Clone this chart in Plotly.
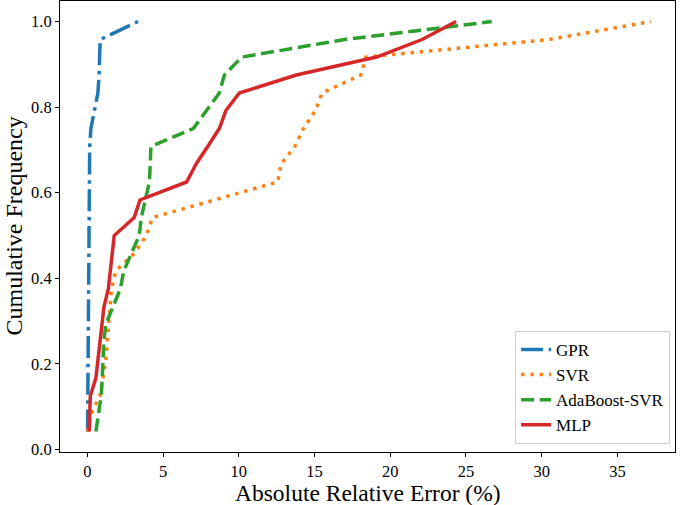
import plotly.graph_objects as go

# Cumulative frequency levels (24 samples)
CUM_FREQ = [0.042, 0.083, 0.125, 0.167, 0.208, 0.250, 0.292, 0.333, 0.375, 0.417,
            0.458, 0.500, 0.542, 0.583, 0.625, 0.667, 0.708, 0.750, 0.792, 0.833,
            0.875, 0.917, 0.958, 1.000]

# Absolute relative error (%) for each model, sorted
GPR = [0.02, 0.03, 0.04, 0.05, 0.06, 0.07, 0.08, 0.08, 0.09, 0.10, 0.10, 0.11,
       0.11, 0.12, 0.12, 0.13, 0.16, 0.24, 0.48, 0.70, 0.78, 0.83, 0.85, 3.35]
SVR = [0.02, 0.24, 0.84, 1.06, 1.22, 1.32, 1.41, 1.49, 1.60, 1.88, 3.10, 3.90,
       4.31, 8.40, 12.57, 12.80, 13.70, 14.27, 15.06, 15.50, 18.06, 18.40, 30.50, 37.20]
ADABOOST_SVR = [0.57, 0.75, 0.92, 0.99, 1.05, 1.09, 1.22, 1.67, 2.18, 2.41, 2.90, 3.43,
                3.57, 3.83, 4.10, 4.16, 4.20, 7.00, 7.90, 8.72, 9.05, 10.20, 17.00, 26.70]
MLP = [0.13, 0.17, 0.20, 0.57, 0.70, 0.83, 0.94, 1.10, 1.39, 1.52, 1.65, 1.78,
       3.10, 3.48, 6.56, 7.18, 7.95, 8.72, 9.15, 10.04, 13.80, 19.10, 22.10, 24.35]

SERIES_NAMES = ["GPR", "SVR", "AdaBoost-SVR", "MLP"]
X_TICKS = [0, 5, 10, 15, 20, 25, 30, 35]
Y_TICKS = [0.0, 0.2, 0.4, 0.6, 0.8, 1.0]
Y_TICK_TEXT = ["0.0", "0.2", "0.4", "0.6", "0.8", "1.0"]
X_TITLE = "Absolute Relative Error (%)"
Y_TITLE = "Cumulative Frequency"

FONT = "Liberation Serif, Times New Roman, serif"
styles = [
    dict(color="#1f77b4", dash="22px,5.6px,3.5px,5.6px"),
    dict(color="#ff7f0e", dash="3.5px,5.8px"),
    dict(color="#2ca02c", dash="13px,5.6px"),
    dict(color="#d62728", dash="solid"),
]

fig = go.Figure()
for name, xs, st in zip(SERIES_NAMES, [GPR, SVR, ADABOOST_SVR, MLP], styles):
    fig.add_trace(go.Scatter(
        x=xs, y=CUM_FREQ, mode="lines", name=name,
        line=dict(color=st["color"], width=3.5, dash=st["dash"]),
    ))

axis_common = dict(
    showgrid=False, zeroline=False, showline=True, mirror=True,
    linecolor="black", linewidth=1, ticks="outside", ticklen=4,
    tickwidth=1, tickcolor="black", automargin=False,
    tickfont=dict(family=FONT, size=16.5, color="black"),
)

fig.update_layout(
    width=685, height=505,
    margin=dict(l=60, r=10, t=1, b=53),
    paper_bgcolor="white", plot_bgcolor="white",
    font=dict(family=FONT, color="black"),
    xaxis=dict(range=[-1.8, 38.8], tickvals=X_TICKS, **axis_common),
    yaxis=dict(range=[-0.006, 1.048], tickvals=Y_TICKS, ticktext=Y_TICK_TEXT,
               **axis_common),
    legend=dict(x=0.992, y=0.018, xanchor="right", yanchor="bottom",
                bgcolor="white", bordercolor="#cccccc", borderwidth=1,
                font=dict(family=FONT, size=17, color="black")),
    annotations=[
        dict(text=X_TITLE, xref="paper", yref="paper", x=0.5, y=-0.09,
             xanchor="center", yanchor="middle", showarrow=False,
             font=dict(family=FONT, size=23.5, color="black")),
        dict(text=Y_TITLE, xref="paper", yref="paper", x=-0.0764, y=0.5,
             xanchor="center", yanchor="middle", showarrow=False, textangle=-90,
             font=dict(family=FONT, size=24, color="black")),
    ],
)

fig.write_html(
    "out.html",
    config={"displayModeBar": False},
    post_script="document.body.style.margin='0px';document.body.style.overflow='hidden';",
)
